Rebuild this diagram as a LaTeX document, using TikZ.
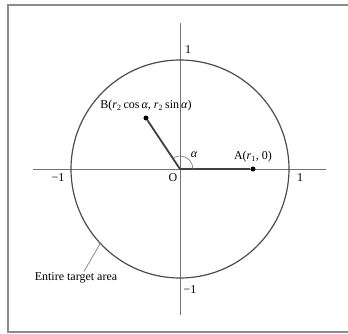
\documentclass[tikz,border=0pt]{standalone}
\usepackage{fontspec}
\setmainfont{Liberation Serif}
\usetikzlibrary{positioning}

\begin{document}
\begin{tikzpicture}[
    x=1pt, y=1pt,
    font=\fontsize{12}{14}\selectfont,
    frame/.style={draw=black!45, line width=1.2pt},
    axis/.style={draw=black!55, line width=0.6pt},
    rim/.style={draw=black!70, line width=1.2pt},
    seg/.style={draw=black!75, line width=1.8pt},
    dot/.style={circle, fill=black, inner sep=0pt, minimum size=5pt},
    lab/.style={inner sep=1pt}
  ]
  \useasboundingbox (-180,-164) rectangle (168,169);
  \draw[frame] (-172,-163) rectangle (170,164);

  % axes and circle
  \coordinate (O) at (0,0);
  \coordinate (xl) at (-147,0);
  \coordinate (xr) at (146,0);
  \coordinate (yb) at (0,-146);
  \coordinate (yt) at (0,146);
  \draw[axis] (xl) -- (xr);
  \draw[axis] (yb) -- (yt);
  \draw[rim] (O) circle[radius=109];

  % ticks
  \node[lab] (top) at (8,119) {1};
  \node[lab] (left) at (-122,-9) {−1};
  \node[lab] (right) at (120,-9) {1};
  \node[lab] (bot) at (10,-121) {−1};
  \node[lab] (olab) at (-7,-9) {O};

  % points
  \node[dot] (A) at (73,0) {};
  \node[dot] (B) at (-34,51) {};
  \draw[seg] (O) -- (A);
  \draw[seg] (O) -- (B);
  \node[lab, above=3pt of A] (alab) {A(\textit{r}\textsubscript{1}, 0)};
  \node[lab, above=3pt of B] (blab)
    {B(\textit{r}\textsubscript{2}\,cos\,\textit{α}, \textit{r}\textsubscript{2}\,sin\,\textit{α})};
  \draw[axis] ([shift={(0:13)}]O) arc[start angle=0, end angle=124, radius=13];
  \node[lab] (alpha) at (14,14) {\textit{α}};

  % target area
  \coordinate (T) at (223:109);
  \node[lab] (tgt) at (-104,-109) {Entire target area};
  \draw[axis] (T) -- ([xshift=8pt]tgt.north);
\end{tikzpicture}
\end{document}
